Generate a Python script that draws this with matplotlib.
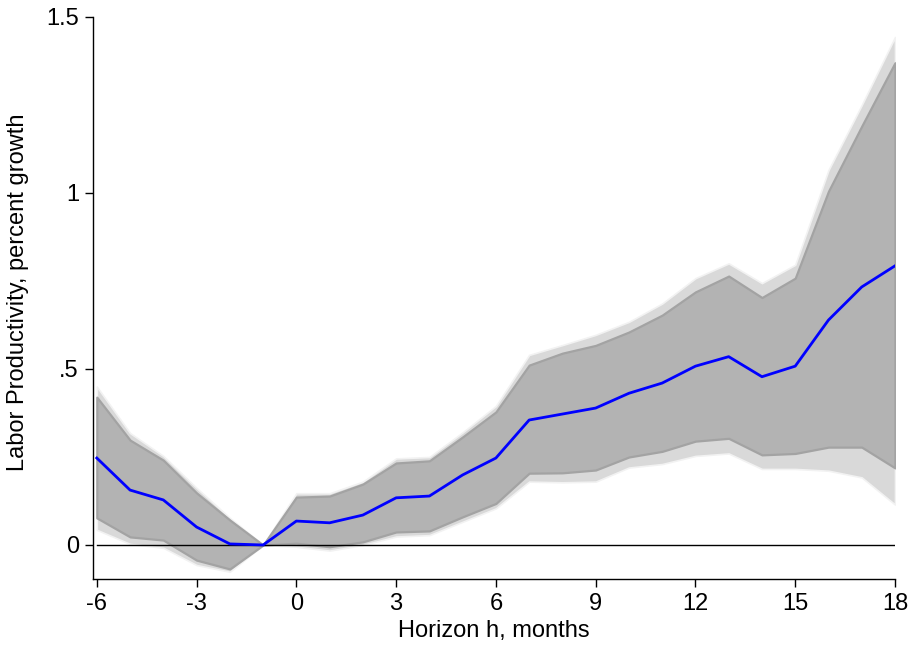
import matplotlib
matplotlib.use("Agg")
import matplotlib.pyplot as plt
import numpy as np

plt.rcParams['font.family'] = ['Liberation Sans', 'DejaVu Sans']

horizon = list(range(-6, 19))
point = [0.247, 0.156, 0.128, 0.051, 0.003, 0.0, 0.068, 0.063, 0.085, 0.134, 0.139,
         0.199, 0.247, 0.355, 0.372, 0.389, 0.431, 0.460, 0.508, 0.535, 0.478,
         0.508, 0.639, 0.733, 0.793]
ci68_upper = [0.420, 0.298, 0.241, 0.148, 0.071, 0.0, 0.136, 0.139, 0.173, 0.233, 0.239,
              0.307, 0.378, 0.511, 0.545, 0.567, 0.605, 0.653, 0.719, 0.764, 0.703,
              0.758, 1.005, 1.19, 1.370]
ci68_lower = [0.077, 0.023, 0.014, -0.043, -0.068, 0.0, 0.005, -0.005, 0.009, 0.037, 0.040,
              0.080, 0.118, 0.204, 0.205, 0.213, 0.250, 0.266, 0.295, 0.303, 0.256,
              0.260, 0.278, 0.278, 0.219]
ci90_upper = [0.450, 0.318, 0.253, 0.162, 0.077, 0.0, 0.147, 0.147, 0.180, 0.246, 0.250,
              0.320, 0.395, 0.540, 0.568, 0.597, 0.634, 0.686, 0.758, 0.800, 0.744,
              0.796, 1.065, 1.25, 1.443]
ci90_lower = [0.043, 0.003, -0.008, -0.057, -0.076, 0.0, -0.005, -0.016, 0.000, 0.024, 0.028,
              0.066, 0.104, 0.180, 0.178, 0.180, 0.220, 0.230, 0.253, 0.260, 0.216,
              0.216, 0.211, 0.192, 0.115]
xticks = [-6, -3, 0, 3, 6, 9, 12, 15, 18]
yticks = [0, 0.5, 1, 1.5]
ytick_labels = ['0', '.5', '1', '1.5']

fig = plt.figure(figsize=(9.1, 6.48), dpi=100)
ax = fig.add_axes([0.102, 0.1065, 0.8815, 0.8673])

ax.fill_between(horizon, ci90_lower, ci90_upper, facecolor='#d9d9d9',
                edgecolor='#f2f2f2', linewidth=1.2, zorder=1)
ax.fill_between(horizon, ci68_lower, ci68_upper, facecolor='#b3b3b3',
                edgecolor='#a3a3a3', linewidth=1.6, zorder=2)
ax.plot([-6, 18], [0, 0], color='black', linewidth=1.0, zorder=3)
ax.plot(horizon, point, color='#0000ff', linewidth=2.0, zorder=4)

ax.set_xlim(-6.12, 18.0)
ax.set_ylim(-0.0966, 1.5)
ax.set_xticks(xticks)
ax.set_xticklabels([str(t) for t in xticks])
ax.set_yticks(yticks)
ax.set_yticklabels(ytick_labels)
ax.tick_params(axis='both', labelsize=17, length=6, width=1, direction='out', pad=4)

for s in ['top', 'right']:
    ax.spines[s].set_visible(False)
ax.spines['left'].set_bounds(-0.0966, 1.5)
ax.spines['left'].set_linewidth(1)
ax.spines['bottom'].set_linewidth(1)

ax.set_xlabel('Horizon h, months', fontsize=17, labelpad=4)
ax.set_ylabel('Labor Productivity, percent growth', fontsize=17, labelpad=12)
ax.yaxis.set_label_coords(-0.08, 0.51)

fig.savefig('out.png', dpi=100)
